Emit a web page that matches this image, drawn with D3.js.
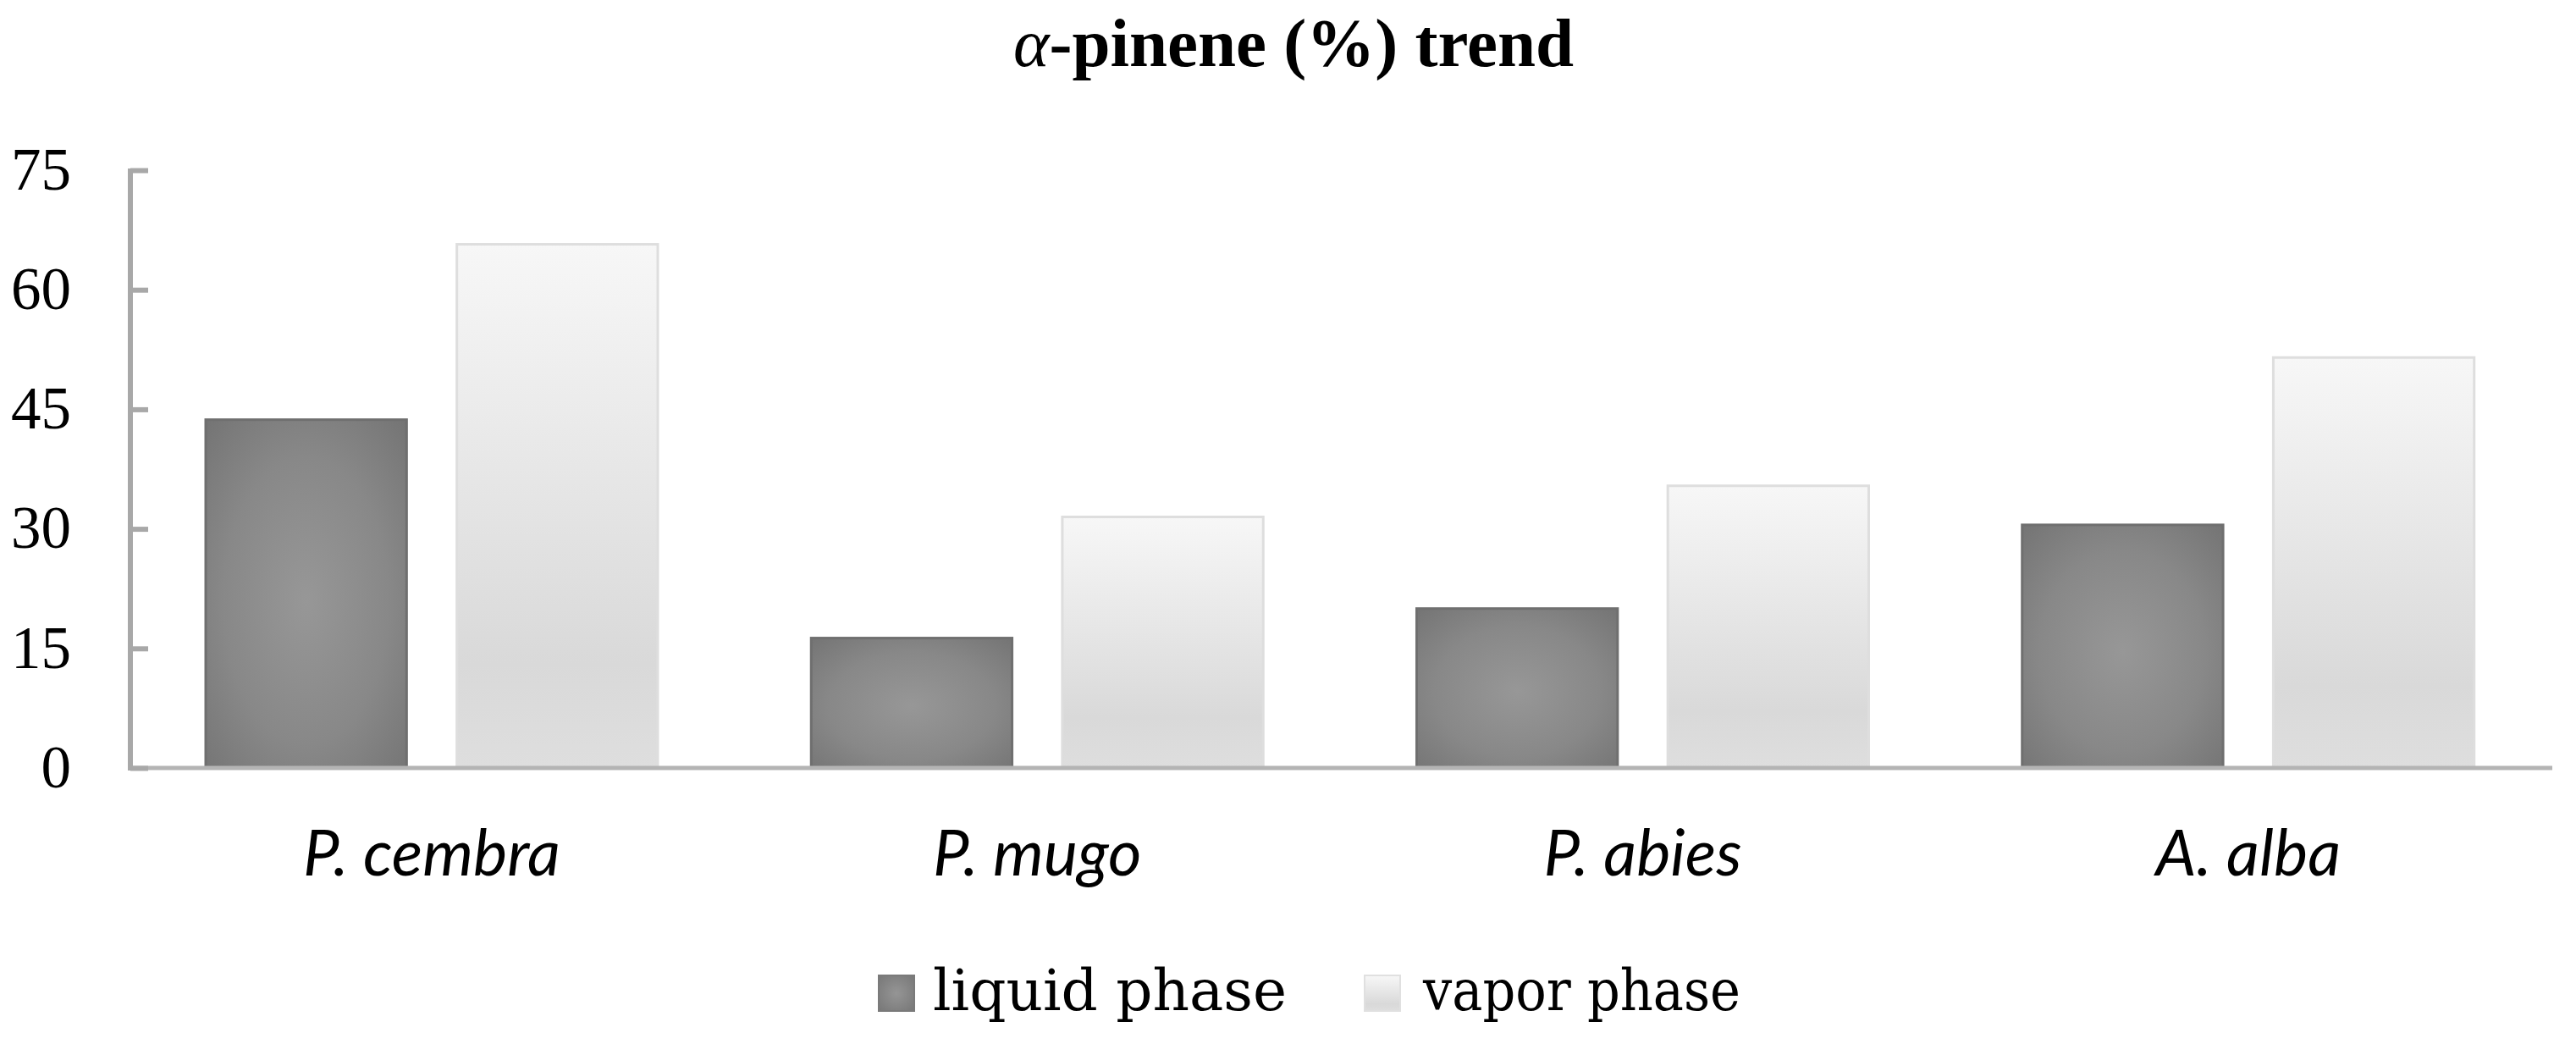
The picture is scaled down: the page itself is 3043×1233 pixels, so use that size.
<!DOCTYPE html>
<html>
<head>
<meta charset="utf-8">
<script src="https://cdn.jsdelivr.net/npm/d3@7"></script>
<style>
  html, body { margin: 0; padding: 0; background: #ffffff; }
  svg { display: block; }
</style>
</head>
<body>
<script>
// ---- data ----
const categories = ["P. cembra", "P. mugo", "P. abies", "A. alba"];
const seriesNames = ["liquid phase", "vapor phase"];
const liquidValues = [43.7, 16.3, 20.0, 30.5];
const vaporValues = [65.7, 31.5, 35.4, 51.5];
const yTicks = [0, 15, 30, 45, 60, 75];
const titleGreek = "α";
const titleRest = "-pinene (%) trend";

const W = 3043, H = 1233;
const axisX = 154, axisRight = 3015, y0 = 907, yTop = 201;

const svg = d3.select("body").append("svg")
  .attr("width", W).attr("height", H)
  .attr("viewBox", `0 0 ${W} ${H}`);
svg.append("rect").attr("width", W).attr("height", H).attr("fill", "#fff");

const defs = svg.append("defs");
const rg = defs.append("radialGradient").attr("id", "liqGrad")
  .attr("cx", "0.5").attr("cy", "0.52").attr("r", "0.75");
rg.append("stop").attr("offset", "0%").attr("stop-color", "#979797");
rg.append("stop").attr("offset", "55%").attr("stop-color", "#888888");
rg.append("stop").attr("offset", "100%").attr("stop-color", "#727272");

const lg = defs.append("linearGradient").attr("id", "vapGrad")
  .attr("x1", 0).attr("y1", 0).attr("x2", 0).attr("y2", 1);
lg.append("stop").attr("offset", "0%").attr("stop-color", "#f7f7f7");
lg.append("stop").attr("offset", "80%").attr("stop-color", "#d9d9d9");
lg.append("stop").attr("offset", "100%").attr("stop-color", "#dedede");

const rgL = defs.append("radialGradient").attr("id", "liqGradL")
  .attr("cx", "0.5").attr("cy", "0.5").attr("r", "0.7");
rgL.append("stop").attr("offset", "0%").attr("stop-color", "#959595");
rgL.append("stop").attr("offset", "100%").attr("stop-color", "#777777");

const x0 = d3.scaleBand().domain(categories).range([axisX, axisRight]).paddingInner(0).paddingOuter(0);
const x1 = d3.scaleBand().domain(seriesNames).range([89, 623]).paddingInner(0.2).paddingOuter(0);
const y = d3.scaleLinear().domain([0, 75]).range([y0, yTop]);

const fills = { "liquid phase": "url(#liqGrad)", "vapor phase": "url(#vapGrad)" };
const strokes = { "liquid phase": "#6f6f6f", "vapor phase": "#dedede" };

const rows = categories.map((c, i) => ({
  cat: c,
  vals: [
    { s: seriesNames[0], v: liquidValues[i] },
    { s: seriesNames[1], v: vaporValues[i] }
  ]
}));

// bars
const g = svg.append("g");
g.selectAll("g.cat").data(rows).join("g")
  .attr("class", "cat")
  .attr("transform", d => `translate(${x0(d.cat)},0)`)
  .selectAll("rect").data(d => d.vals).join("rect")
  .attr("x", d => x1(d.s))
  .attr("width", x1.bandwidth())
  .attr("y", d => y(d.v))
  .attr("height", d => y0 - y(d.v))
  .attr("fill", d => fills[d.s])
  .attr("stroke", d => strokes[d.s])
  .attr("stroke-width", 3);

// x axis line
svg.append("line")
  .attr("x1", axisX).attr("x2", axisRight)
  .attr("y1", y0).attr("y2", y0)
  .attr("stroke", "#b4b4b4").attr("stroke-width", 5);

// y axis
const yAxis = d3.axisRight(y).tickValues(yTicks).tickSize(21).tickSizeOuter(0).tickFormat("");
const ya = svg.append("g").attr("transform", `translate(${axisX},0)`).call(yAxis);
ya.select(".domain").attr("stroke", "#a8a8a8").attr("stroke-width", 6)
  .attr("d", `M0,${yTop - 2}V${y0 + 3}`);
ya.selectAll(".tick line").attr("stroke", "#a8a8a8").attr("stroke-width", 6);

// y tick labels
svg.append("g").selectAll("text").data(yTicks).join("text")
  .attr("x", 84)
  .attr("y", d => y(d) - 2)
  .attr("dy", "0.35em")
  .attr("text-anchor", "end")
  .attr("font-family", "'Liberation Serif', serif")
  .attr("font-size", 71)
  .attr("fill", "#000")
  .text(d => d);

// category labels
svg.append("g").selectAll("text").data(categories).join("text")
  .attr("x", d => x0(d) + (89 + 623) / 2)
  .attr("y", 1034)
  .attr("text-anchor", "middle")
  .attr("font-family", "Lato, 'Open Sans', sans-serif")
  .attr("font-style", "italic")
  .attr("font-size", 76)
  .attr("fill", "#000")
  .text(d => d);

// title
const t = svg.append("text")
  .attr("x", 1528).attr("y", 78)
  .attr("text-anchor", "middle")
  .attr("font-family", "'Liberation Serif', serif")
  .attr("font-weight", "bold")
  .attr("font-size", 81)
  .attr("fill", "#000");
t.append("tspan").attr("font-style", "italic").attr("font-weight", "normal").text(titleGreek);
t.append("tspan").text(titleRest);

// legend
const legendItems = [
  { name: seriesNames[0], sx: 1038, tx: 1102, len: 418, fill: "url(#liqGradL)", stroke: "#7a7a7a" },
  { name: seriesNames[1], sx: 1612, tx: 1681, len: 375, fill: "url(#vapGrad)", stroke: "#e0e0e0" }
];
const lgG = svg.append("g");
lgG.selectAll("rect").data(legendItems).join("rect")
  .attr("x", d => d.sx).attr("y", 1152)
  .attr("width", 42).attr("height", 42)
  .attr("fill", d => d.fill).attr("stroke", d => d.stroke).attr("stroke-width", 2);
lgG.selectAll("text").data(legendItems).join("text")
  .attr("x", d => d.tx).attr("y", 1193)
  .attr("font-family", "'DejaVu Serif', serif")
  .attr("font-size", 67)
  .attr("textLength", d => d.len)
  .attr("lengthAdjust", "spacingAndGlyphs")
  .attr("fill", "#000")
  .text(d => d.name);
</script>
</body>
</html>
